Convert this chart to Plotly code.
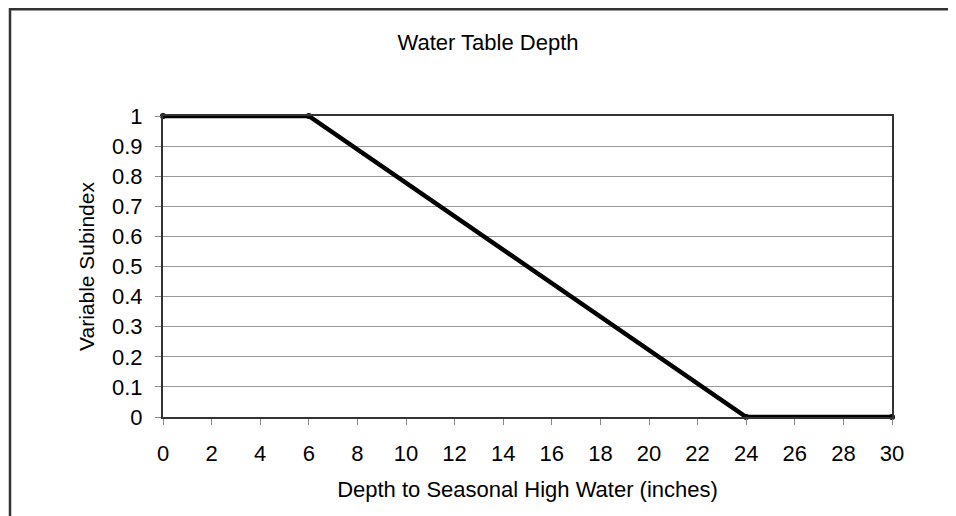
import plotly.graph_objects as go

depth = [0, 6, 24, 30]
subindex = [1, 1, 0, 0]
x_ticks = list(range(0, 31, 2))
y_ticks = [0, 0.1, 0.2, 0.3, 0.4, 0.5, 0.6, 0.7, 0.8, 0.9, 1]
y_tick_labels = ["0", "0.1", "0.2", "0.3", "0.4", "0.5", "0.6", "0.7", "0.8", "0.9", "1"]

# page body has an 8px margin, so figure coords = page coords - 8
W, H = 948, 508
L, T = 155, 108
R = W - 884
B = H - 409
pw, ph = W - L - R, H - T - B

FAM = "Liberation Sans, Arial, sans-serif"

fig = go.Figure()
fig.add_trace(go.Scatter(
    x=depth, y=subindex, mode="lines+markers",
    line=dict(color="black", width=4.5),
    marker=dict(color="black", size=6),
    cliponaxis=False, showlegend=False,
))

fig.update_layout(
    width=W, height=H,
    margin=dict(l=L, r=R, t=T, b=B, autoexpand=False),
    paper_bgcolor="white", plot_bgcolor="white",
    font=dict(family=FAM, size=22, color="black"),
    title=dict(text="Water Table Depth", x=480 / W, xanchor="center",
               y=1 - 34 / H, yanchor="middle", yref="container",
               font=dict(family=FAM, size=22, color="black")),
    xaxis=dict(
        range=[0, 30], tickmode="array", tickvals=x_ticks,
        ticks="outside", ticklen=6, tickcolor="#888", tickwidth=1,
        showgrid=False, zeroline=False,
        showline=True, linecolor="#333", linewidth=2, mirror=True,
        ticklabelstandoff=10,
        tickfont=dict(family=FAM, size=22, color="black"),
        title=dict(text="Depth to Seasonal High Water (inches)", standoff=16,
                   font=dict(family=FAM, size=22, color="black")),
        automargin=False,
    ),
    yaxis=dict(
        range=[0, 1], tickmode="array", tickvals=y_ticks, ticktext=y_tick_labels,
        ticks="outside", ticklen=6, tickcolor="#888", tickwidth=1,
        showgrid=True, gridcolor="#999", gridwidth=1,
        zeroline=False,
        showline=True, linecolor="#333", linewidth=2, mirror=True,
        ticklabelstandoff=8,
        tickfont=dict(family=FAM, size=22, color="black"),
        title=dict(text="Variable Subindex", standoff=12,
                   font=dict(family=FAM, size=21, color="black")),
        automargin=False,
    ),
    shapes=[dict(
        type="rect", xref="paper", yref="paper",
        x0=(2 - L) / pw, x1=(W + 20 - L) / pw,
        y0=-(H + 20 - (T + ph)) / ph, y1=1 + (T - 1.25) / ph,
        line=dict(color="#333", width=2.5), fillcolor="rgba(0,0,0,0)",
        layer="below",
    )],
)

fig.write_html("out.html")
